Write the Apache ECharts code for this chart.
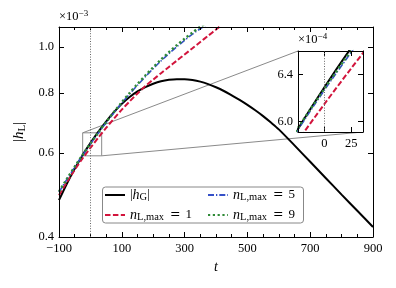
<!DOCTYPE html>
<html><head><meta charset="utf-8">
<script src="https://cdn.jsdelivr.net/npm/echarts@6/dist/echarts.min.js"></script>
<style>html,body{margin:0;padding:0;background:#fff}#c{width:396px;height:288px}</style>
</head><body><div id="c"></div>
<script>
// time grid
const t = [-100,-75,-50,-25,0,25,50,75,100,125,150,175,200,225,250,275,300,325,350,375,400,425,450,475,500,525,550,575,600,650,700,750,800,850,900];
// |h_G| (x 1e-3)
const hG = [0.4776,0.5169,0.5554,0.5933,0.6288,0.6637,0.6977,0.7298,0.7596,0.7851,0.8065,0.8237,0.8369,0.8470,0.8530,0.8556,0.8556,0.8521,0.8454,0.8353,0.8228,0.8082,0.7914,0.7741,0.7558,0.7364,0.7161,0.6942,0.6717,0.6219,0.5747,0.5310,0.4907,0.4538,0.4198];
// n_L,max = 1
const n1 = [0.4892,0.5210,0.5527,0.5839,0.6145,0.6453,0.6764,0.7075,0.7386,0.7687,0.7985,0.8278,0.8539,0.8807,0.9076,0.9352,0.9637,0.9930,1.0233,1.0544,1.0865,1.1196];
// n_L,max = 5
const n5 = [0.4966,0.5278,0.5599,0.5927,0.6263,0.6597,0.6935,0.7276,0.7626,0.7969,0.8311,0.8659,0.9003,0.9343,0.9675,1.0000,1.0315,1.0629,1.0909,1.1185];
// n_L,max = 9
const n9 = [0.4976,0.5291,0.5613,0.5942,0.6275,0.6613,0.6958,0.7304,0.7655,0.8007,0.8359,0.8709,0.9057,0.9402,0.9740,1.0073,1.0396,1.0709,1.1011,1.1275];

const yTicks = [0.4, 0.6, 0.8, 1.0];
const xLabelTicks = [-100, 100, 300, 500, 700, 900];
const insetXTicks = [0, 25];
const insetYTicks = [0.60, 0.64];
const xRange = [-100, 900];
const yRange = [0.4, 1.1];
const insetX = [-24.6, 35.9];
const insetY = [0.5914, 0.6607];

const LN = Math.log;
const toData = arr => arr.map((v, i) => [t[i], LN(v)]);
const FONT = 'Liberation Serif';
const fmtNum = v => (v < 0 ? '\u2212' + Math.abs(v) : String(v));

const styles = {
  hG: {color: '#000000', width: 2, type: 'solid'},
  n1: {color: '#d2143c', width: 2, type: [5.5, 2.4]},
  n5: {color: '#3550c8', width: 1.6, type: [6, 2, 1.3, 2]},
  n9: {color: '#2f8a36', width: 2.4, type: [2.2, 2.6]}
};
const dataMap = {hG, n1, n5, n9};
const order = ['hG', 'n1', 'n5', 'n9'];

function mkSeries(name, xi, yi, extra) {
  const s = styles[name];
  return Object.assign({
    type: 'line', name, xAxisIndex: xi, yAxisIndex: yi,
    data: toData(dataMap[name]), showSymbol: false, symbol: 'none',
    smooth: 0.3,
    lineStyle: {color: s.color, width: s.width, type: s.type},
    itemStyle: {color: s.color}, clip: true, silent: true, z: 3
  }, extra || {});
}
const dotted = {
  silent: true, symbol: 'none', label: {show: false},
  lineStyle: {color: '#666', type: [1, 1.6], width: 1},
  data: [{xAxis: 0}], animation: false
};

const series = [];
order.forEach((n, k) => {
  const ex = {};
  if (k === 0) {
    ex.markLine = dotted;
    ex.markArea = {silent: true, itemStyle: {color: 'rgba(0,0,0,0)', borderColor: '#8a8a8a', borderWidth: 1},
      data: [[{xAxis: insetX[0], yAxis: LN(insetY[0])}, {xAxis: insetX[1], yAxis: LN(insetY[1])}]]};
  }
  series.push(mkSeries(n, 0, 0, ex));
});
order.forEach((n, k) => {
  series.push(mkSeries(n, 2, 2, k === 0 ? {markLine: dotted} : {}));
});

const tickLabel = {fontFamily: FONT, fontSize: 12.5, color: '#000'};
const axLine = {show: true, onZero: false, lineStyle: {color: '#000', width: 1}};
function xAx(grid, pos, rng, showLabel, labelVals, tickVals, minor) {
  const o = {
    type: 'value', gridIndex: grid, position: pos, min: rng[0], max: rng[1], z: 4,
    axisLine: axLine, splitLine: {show: false},
    axisTick: {show: true, inside: true, length: 5, lineStyle: {color: '#000', width: 1}},
    axisLabel: Object.assign({show: showLabel, margin: 5, formatter: v => fmtNum(v)}, tickLabel)
  };
  if (minor) {
    o.interval = 200;
    o.minorTick = {show: true, splitNumber: 4, length: 3, lineStyle: {color: '#000', width: 1}};
    o.axisLabel.customValues = labelVals;
  } else {
    o.axisTick.customValues = tickVals;
    o.axisLabel.customValues = labelVals;
  }
  return o;
}
function yAx(grid, pos, rng, showLabel, vals, scale) {
  return {
    type: 'value', gridIndex: grid, position: pos, min: LN(rng[0]), max: LN(rng[1]), z: 4,
    axisLine: axLine, splitLine: {show: false},
    axisTick: {show: true, inside: true, length: 5, customValues: vals.map(LN), lineStyle: {color: '#000', width: 1}},
    axisLabel: Object.assign({show: showLabel, margin: 5, customValues: vals.map(LN),
      formatter: v => (Math.exp(v) * scale).toFixed(1)}, tickLabel)
  };
}

const xA0 = xAx(0, 'bottom', xRange, true, xLabelTicks, null, true);
xA0.name = 't';
xA0.nameLocation = 'middle';
xA0.nameGap = 22;
xA0.nameTextStyle = {fontFamily: FONT, fontStyle: 'italic', fontSize: 14, color: '#000'};
const xA1 = xAx(0, 'top', xRange, false, xLabelTicks, null, true);
const xA2 = xAx(1, 'bottom', insetX, true, insetXTicks, insetXTicks, false);
const xA3 = xAx(1, 'top', insetX, false, insetXTicks, insetXTicks, false);

const yA0 = yAx(0, 'left', yRange, true, yTicks, 1);
yA0.name = '|{i|h}{s|L}|';
yA0.nameLocation = 'middle';
yA0.nameRotate = 90;
yA0.nameGap = 30;
yA0.nameTextStyle = {fontFamily: FONT, fontSize: 15, color: '#000',
  rich: {i: {fontFamily: FONT, fontStyle: 'italic', fontSize: 15}, s: {fontFamily: FONT, fontSize: 11, padding: [6, 0, 0, 0]}}};
const yA1 = yAx(0, 'right', yRange, false, yTicks, 1);
const yA2 = yAx(1, 'left', insetY, true, insetYTicks, 10);
const yA3 = yAx(1, 'right', insetY, false, insetYTicks, 10);

const LABELS = {
  hG: '{r||}{i|h}{s|G}{r||}',
  n1: '{i|n}{s|L,max}{e|=}{r|1}',
  n5: '{i|n}{s|L,max}{e|=}{r|5}',
  n9: '{i|n}{s|L,max}{e|=}{r|9}'
};
const legendText = {
  fontFamily: FONT, fontSize: 13, color: '#000',
  rich: {
    i: {fontFamily: FONT, fontStyle: 'italic', fontSize: 14},
    s: {fontFamily: FONT, fontSize: 10.5, padding: [5, 0, 0, 0]},
    e: {fontFamily: 'DejaVu Serif', fontSize: 12.5, padding: [0, 5, 0, 6]},
    r: {fontFamily: FONT, fontSize: 13}
  }
};
function mkLegend(data, left) {
  return {
    data, left, top: 188, orient: 'vertical', itemWidth: 20, itemHeight: 12, itemGap: 5,
    padding: 0, selectedMode: false, formatter: n => LABELS[n], textStyle: legendText, z: 6,
    itemStyle: {opacity: 0}, lineStyle: {opacity: 1}
  };
}

const chart = echarts.init(document.getElementById('c'), null, {renderer: 'canvas'});
chart.setOption({
  animation: false,
  backgroundColor: '#fff',
  grid: [
    {left: 59, top: 27, width: 314, height: 210, show: false},
    {left: 298, top: 51, width: 65, height: 81, show: true, backgroundColor: '#fff', borderWidth: 0, z: 1}
  ],
  xAxis: [xA0, xA1, xA2, xA3],
  yAxis: [yA0, yA1, yA2, yA3],
  legend: [mkLegend(['hG', 'n1'], 104), mkLegend(['n5', 'n9'], 207)],
  series
});

const P = (si, x, y) => chart.convertToPixel({seriesIndex: si}, [x, y]);
const a1 = P(0, insetX[0], LN(insetY[1])), b1 = P(4, insetX[0], LN(insetY[1]));
const a2 = P(0, insetX[1], LN(insetY[0])), b2 = P(4, insetX[1], LN(insetY[0]));
const supRich = {
  a: {fontFamily: FONT, fontSize: 12.5, fill: '#000'},
  b: {fontFamily: FONT, fontSize: 9, padding: [0, 0, 7, 0], fill: '#000'}
};
chart.setOption({
  graphic: {elements: [
    {type: 'line', z: 0, silent: true, shape: {x1: a1[0], y1: a1[1], x2: b1[0], y2: b1[1]}, style: {stroke: '#8a8a8a', lineWidth: 1}},
    {type: 'line', z: 0, silent: true, shape: {x1: a2[0], y1: a2[1], x2: b2[0], y2: b2[1]}, style: {stroke: '#8a8a8a', lineWidth: 1}},
    {type: 'rect', z: 5, silent: true, left: 102, top: 186.5, shape: {width: 201, height: 36, r: 3},
      style: {fill: 'rgba(255,255,255,0.85)', stroke: '#888', lineWidth: 1}},
    {type: 'text', z: 10, silent: true, left: 59, top: 9, style: {text: '{a|\u00d710}{b|\u22123}', rich: supRich}},
    {type: 'text', z: 10, silent: true, left: 298, top: 32, style: {text: '{a|\u00d710}{b|\u22124}', rich: supRich}}
  ]}
});
</script></body></html>
